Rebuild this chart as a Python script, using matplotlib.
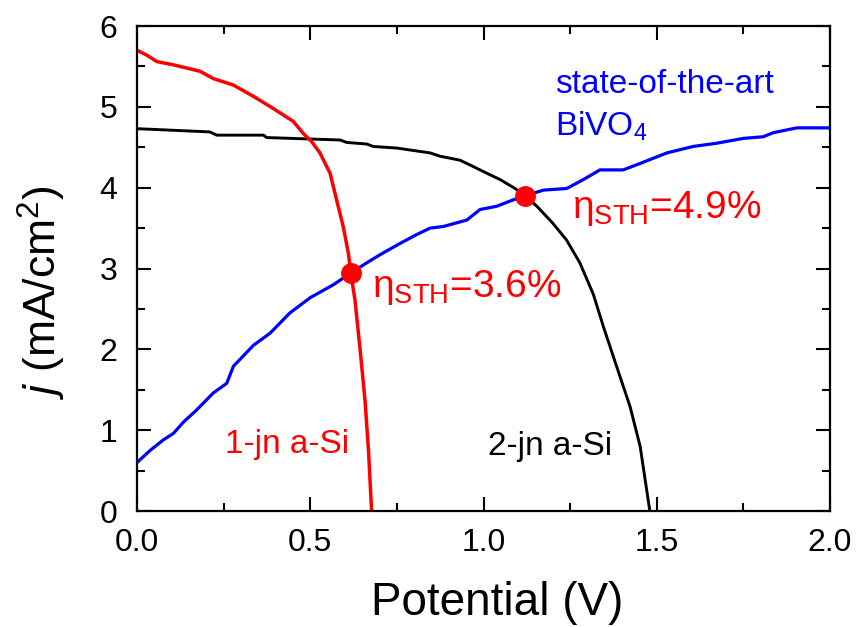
import matplotlib
matplotlib.use('Agg')
import matplotlib.pyplot as plt
from matplotlib.ticker import MultipleLocator

# 1-jn a-Si (red)
v_1jn = [0, 0.028, 0.057, 0.105, 0.182, 0.22, 0.278, 0.336, 0.393, 0.451, 0.48, 0.504,
         0.528, 0.557, 0.576, 0.595, 0.61, 0.617, 0.629, 0.644, 0.658, 0.668, 0.677]
j_1jn = [5.70, 5.64, 5.56, 5.52, 5.44, 5.35, 5.27, 5.13, 4.98, 4.82, 4.67, 4.57,
         4.43, 4.18, 3.85, 3.52, 3.19, 2.94, 2.61, 1.99, 1.37, 0.75, 0.0]

# 2-jn a-Si (black)
v_2jn = [0, 0.21, 0.23, 0.365, 0.374, 0.586, 0.605, 0.663, 0.682, 0.75, 0.846, 0.874,
         0.932, 0.971, 1.009, 1.048, 1.091, 1.12, 1.154, 1.20, 1.24, 1.278, 1.317,
         1.346, 1.384, 1.423, 1.452, 1.48]
j_2jn = [4.73, 4.69, 4.65, 4.65, 4.62, 4.59, 4.56, 4.54, 4.51, 4.49, 4.43, 4.39,
         4.34, 4.26, 4.18, 4.10, 3.99, 3.90, 3.77, 3.56, 3.35, 3.07, 2.68,
         2.28, 1.79, 1.29, 0.80, 0.0]

# state-of-the-art BiVO4 (blue)
v_bivo = [0, 0.038, 0.076, 0.105, 0.134, 0.172, 0.22, 0.259, 0.278, 0.336, 0.384, 0.441,
          0.50, 0.567, 0.615, 0.663, 0.701, 0.759, 0.807, 0.846, 0.884, 0.952, 0.99,
          1.038, 1.086, 1.12, 1.173, 1.24, 1.288, 1.336, 1.403, 1.452, 1.529, 1.605,
          1.673, 1.75, 1.807, 1.836, 1.904, 2.0]
j_bivo = [0.60, 0.75, 0.88, 0.96, 1.10, 1.25, 1.46, 1.58, 1.79, 2.05, 2.20, 2.45,
          2.64, 2.80, 2.94, 3.07, 3.17, 3.31, 3.42, 3.50, 3.52, 3.60, 3.73,
          3.77, 3.85, 3.90, 3.97, 3.99, 4.10, 4.22, 4.22, 4.30, 4.43, 4.51,
          4.55, 4.61, 4.63, 4.68, 4.74, 4.74]

# operating points
op_v = [0.617, 1.12]
op_j = [2.94, 3.90]
op_labels = ['3.6', '4.9']

plt.rcParams['font.family'] = ['Liberation Sans', 'DejaVu Sans']
plt.rcParams['mathtext.fontset'] = 'custom'
plt.rcParams['mathtext.rm'] = 'Liberation Sans'
plt.rcParams['mathtext.it'] = 'Liberation Sans:italic'
plt.rcParams['mathtext.default'] = 'regular'

fig = plt.figure(figsize=(8.58, 6.27), dpi=100)
ax = fig.add_axes([0.1597, 0.185, 0.8077, 0.7735])

ax.plot(v_bivo, j_bivo, color='#0000ff', lw=2.3)
ax.plot(v_2jn, j_2jn, color='black', lw=2.1)
ax.plot(v_1jn, j_1jn, color='#ff0000', lw=2.5)
ax.plot(op_v, op_j, 'o', color='#ff0000', ms=14, zorder=5)

ax.set_xlim(0, 2.0)
ax.set_ylim(0, 6)
ax.xaxis.set_major_locator(MultipleLocator(0.5))
ax.xaxis.set_minor_locator(MultipleLocator(0.25))
ax.yaxis.set_major_locator(MultipleLocator(1))
ax.yaxis.set_minor_locator(MultipleLocator(0.5))
ax.xaxis.set_major_formatter(plt.FormatStrFormatter('%.1f'))
ax.tick_params(which='both', direction='in', top=True, right=True, width=1.5)
ax.tick_params(which='major', length=10, labelsize=23, pad=12)
ax.tick_params(axis='y', which='major', pad=14)
ax.tick_params(which='minor', length=6)
for s in ax.spines.values():
    s.set_linewidth(1.6)

ax.set_xlabel('Potential (V)', fontsize=33)
ax.xaxis.set_label_coords(0.52, -0.145)
ax.set_ylabel('$\\mathit{j}$ (mA/cm$^2$)', fontsize=32)
ax.yaxis.set_label_coords(-0.10, 0.45)

ax.text(0.254, 0.72, '1-jn a-Si', color='#ff0000', fontsize=24, va='baseline')
ax.text(1.013, 0.69, '2-jn a-Si', color='black', fontsize=24, va='baseline')
ax.text(1.206, 5.17, 'state-of-the-art', color='#0000ff', fontsize=24, va='baseline')
ax.text(1.206, 4.65, 'BiVO$_4$', color='#0000ff', fontsize=24, va='baseline')
ax.text(0.678, 2.65, '$\\eta_{STH}$=' + op_labels[0] + '%', color='#ff0000',
        fontsize=28, va='baseline')
ax.text(1.255, 3.63, '$\\eta_{STH}$=' + op_labels[1] + '%', color='#ff0000',
        fontsize=28, va='baseline')

plt.savefig('out.png', dpi=100)
